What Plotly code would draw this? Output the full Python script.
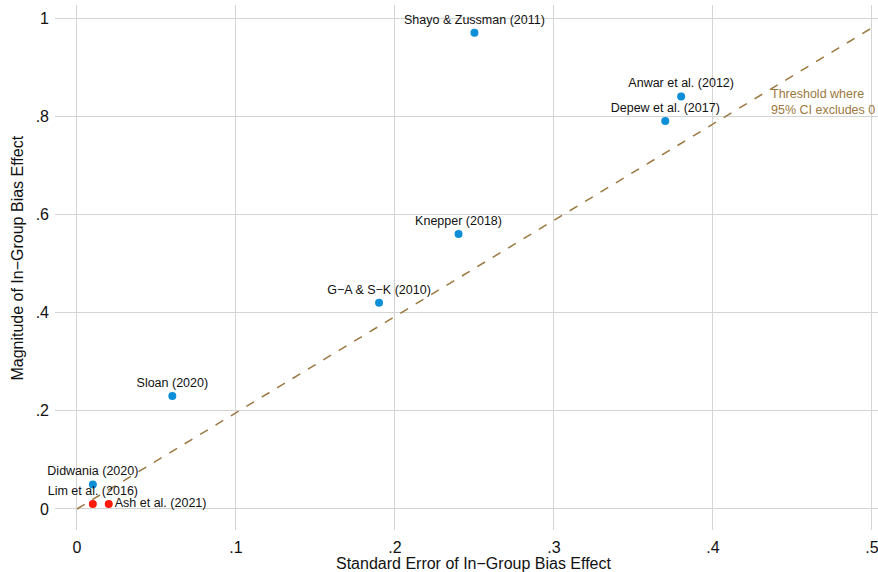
import plotly.graph_objects as go

# studies: standard error vs magnitude of in-group bias effect
studies = ["Shayo & Zussman (2011)", "Anwar et al. (2012)", "Depew et al. (2017)",
           "Knepper (2018)", "G\u2212A & S\u2212K (2010)", "Sloan (2020)",
           "Didwania (2020)", "Lim et al. (2016)", "Ash et al. (2021)"]
std_err = [0.25, 0.38, 0.37, 0.24, 0.19, 0.06, 0.01, 0.01, 0.02]
magnitude = [0.97, 0.84, 0.79, 0.56, 0.42, 0.23, 0.05, 0.01, 0.01]
significant = [True, True, True, True, True, True, True, False, False]
label_pos = ["top center"] * 8 + ["middle right"]

x_ticks = [0, 0.1, 0.2, 0.3, 0.4, 0.5]
x_tick_labels = ["0", ".1", ".2", ".3", ".4", ".5"]
y_ticks = [0, 0.2, 0.4, 0.6, 0.8, 1.0]
y_tick_labels = ["0", ".2", ".4", ".6", ".8", "1"]

# 95% CI excludes zero when effect > 1.96 * SE
thresh_x = [0, 0.5]
thresh_y = [1.96 * v for v in thresh_x]

BLUE = "#0d8fd8"
RED = "#ff1a0a"
BROWN = "#9c7840"
FONT = "Liberation Sans, Arial, sans-serif"

fig = go.Figure()

fig.add_trace(go.Scatter(
    x=thresh_x, y=thresh_y, mode="lines",
    line=dict(color=BROWN, width=1.5, dash="dash"),
    hoverinfo="skip", showlegend=False, cliponaxis=False,
))

for sig, color in [(True, BLUE), (False, RED)]:
    idx = [i for i, s in enumerate(significant) if s == sig]
    fig.add_trace(go.Scatter(
        x=[std_err[i] for i in idx],
        y=[magnitude[i] for i in idx],
        text=[studies[i] for i in idx],
        textposition=[label_pos[i] for i in idx],
        mode="markers+text",
        marker=dict(color=color, size=8),
        textfont=dict(family=FONT, size=12.5, color="#111111"),
        showlegend=False, cliponaxis=False,
    ))

fig.add_annotation(
    x=0.435, y=0.829, xref="x", yref="y",
    text="Threshold where<br>95% CI excludes 0",
    showarrow=False, xanchor="left", yanchor="middle", align="left",
    font=dict(family=FONT, size=12.5, color=BROWN),
)

fig.add_annotation(
    x=0.25, y=0, xref="x", yref="paper", yshift=-33,
    text="Standard Error of In\u2212Group Bias Effect",
    showarrow=False, xanchor="center", yanchor="middle",
    font=dict(family=FONT, size=16, color="#111111"),
)
fig.add_annotation(
    x=0, y=0.51, xref="paper", yref="y", xshift=-37,
    text="Magnitude of In\u2212Group Bias Effect", textangle=-90,
    showarrow=False, xanchor="center", yanchor="middle",
    font=dict(family=FONT, size=16, color="#111111"),
)

fig.update_xaxes(
    range=[-0.0138, 0.5038], tickvals=x_ticks, ticktext=x_tick_labels,
    showgrid=True, gridcolor="#d4d4d4", gridwidth=1, zeroline=False,
    showline=False, ticks="outside", ticklen=3, tickcolor="rgba(0,0,0,0)",
    automargin=False, ticklabeloverflow="allow",
    tickfont=dict(family=FONT, size=16, color="#111111"),
)
fig.update_yaxes(
    range=[-0.0428, 1.0265], tickvals=y_ticks, ticktext=y_tick_labels,
    showgrid=True, gridcolor="#d4d4d4", gridwidth=1, zeroline=False,
    showline=False, ticks="", ticklabelstandoff=5, automargin=False,
    tickfont=dict(family=FONT, size=16, color="#111111"),
)

fig.update_layout(
    width=878, height=572,
    margin=dict(l=55, r=0, t=5, b=42, autoexpand=False),
    plot_bgcolor="white", paper_bgcolor="white",
    font=dict(family=FONT),
)

# drop the page's default body margin so the figure sits at the window corner
fig.write_html("out.html", config={"displayModeBar": False},
               post_script="document.body.style.margin = '0';")
